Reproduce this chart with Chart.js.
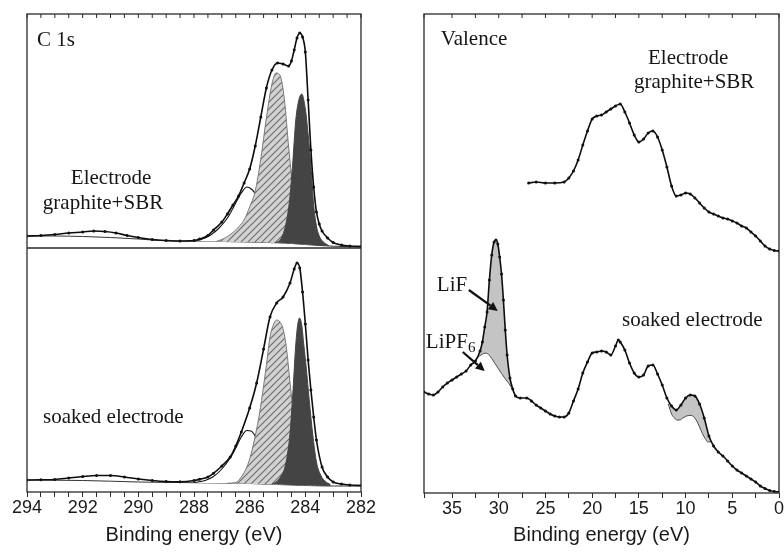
<!DOCTYPE html>
<html>
<head>
<meta charset="utf-8">
<script src="https://cdn.jsdelivr.net/npm/chart.js@4.4.1/dist/chart.umd.min.js"></script>
<style>
html, body { margin: 0; padding: 0; background: #fff; overflow: hidden; }
#left { position: absolute; left: 0; top: 0; }
#right { position: absolute; left: 392px; top: 0; }
</style>
</head>
<body>
<canvas id="left" width="392" height="553"></canvas>
<canvas id="right" width="400" height="553"></canvas>
<script>
// ---- C 1s panel, upper spectrum (electrode graphite+SBR) ----
var c1sTopE = [294, 293.5, 293, 292.5, 292, 291.6, 291.2, 290.8, 290.4, 290, 289.5, 289, 288.5, 288, 287.8, 287.5, 287.3, 287.0, 286.8, 286.6, 286.4, 286.2, 286.0, 285.8, 285.6, 285.4, 285.2, 285.0, 284.8, 284.6, 284.5, 284.4, 284.3, 284.2, 284.1, 284.0, 283.9, 283.8, 283.7, 283.6, 283.5, 283.4, 283.2, 283.0, 282.7, 282.4, 282];
var c1sTopI = [256, 256.5, 257.5, 259, 260, 261, 260.5, 259, 256.5, 254.5, 252.5, 251.5, 251, 251.5, 253, 256.5, 262, 270, 278, 287, 296, 309, 323, 346, 375, 404, 422, 429, 428, 426, 431, 442, 454, 459, 455, 440, 392, 342, 305, 280, 268, 261, 254, 249.5, 247, 246, 245.5];
var c1sTopBgE = [294, 293, 292, 291, 290, 289.5, 289, 288, 287, 286, 285, 284.5, 284, 283.5, 283, 282];
var c1sTopBgI = [256, 256, 255.5, 254.5, 253, 252, 251.2, 250.8, 250.5, 250, 249.2, 248.5, 247.5, 246.5, 245.8, 245.2];
var c1sTopHatchE = [287.2, 287.0, 286.8, 286.6, 286.4, 286.2, 286.0, 285.8, 285.6, 285.4, 285.2, 285.05, 284.9, 284.75, 284.6, 284.45, 284.3, 284.15, 284.0, 283.8, 283.6];
var c1sTopHatchI = [250.6, 252.5, 255.5, 259.5, 265, 272, 285, 301, 333, 374, 408, 419, 416, 392, 345, 305, 278, 262, 254, 249, 247.2];
var c1sTopDarkE = [285.1, 284.9, 284.75, 284.65, 284.55, 284.45, 284.35, 284.25, 284.13, 284.0, 283.9, 283.8, 283.7, 283.6, 283.5, 283.35, 283.15];
var c1sTopDarkI = [249.3, 252, 262, 275, 296, 330, 370, 390, 398, 383, 358, 326, 287, 266, 256, 250, 246.3];
var c1sTopWhiteE = [288.0, 287.7, 287.4, 287.1, 286.8, 286.5, 286.3, 286.1, 285.9, 285.7, 285.5, 285.3, 285.1, 284.9, 284.7];
var c1sTopWhiteI = [250.8, 253, 257, 264, 274, 289, 299, 305, 302, 294, 282, 270, 260, 254, 250.5];

// ---- C 1s panel, lower spectrum (soaked electrode) ----
var c1sBotE = [294, 293.5, 293, 292.5, 292, 291.5, 291, 290.5, 290, 289.5, 289, 288.5, 288, 287.8, 287.5, 287.3, 287.0, 286.7, 286.5, 286.3, 286.0, 285.75, 285.5, 285.27, 285.03, 284.8, 284.55, 284.4, 284.3, 284.2, 284.1, 284.0, 283.9, 283.8, 283.7, 283.6, 283.4, 283.2, 283.0, 282.7, 282.4, 282];
var c1sBotI = [12, 12.2, 12.5, 14, 15.5, 16.5, 16.5, 15, 13, 11.5, 10.5, 10.3, 11.5, 12.7, 15, 18.7, 26, 35, 46, 60, 84, 109, 143, 175, 189, 195, 209, 223, 229, 224, 200, 168, 132, 102, 75, 52, 25, 15, 10, 8, 7, 6.5];
var c1sBotBgE = [294, 292, 291, 290, 289, 288, 287, 286, 285, 284, 283, 282];
var c1sBotBgI = [12, 11.5, 10.8, 10, 9.6, 9.3, 9, 8.5, 7.5, 6.5, 6, 6];
var c1sBotHatchE = [286.8, 286.5, 286.3, 286.1, 285.95, 285.8, 285.65, 285.5, 285.38, 285.27, 285.15, 285.03, 284.91, 284.79, 284.67, 284.55, 284.45, 284.3, 284.15, 284.0, 283.8, 283.6];
var c1sBotHatchI = [8.8, 9.5, 15, 25, 38, 56, 78, 106, 131, 155, 167, 172, 170, 162, 142, 109, 84, 52, 29, 16, 9.5, 7];
var c1sBotDarkE = [285.2, 285.0, 284.85, 284.73, 284.63, 284.55, 284.45, 284.35, 284.28, 284.21, 284.13, 284.05, 283.97, 283.86, 283.74, 283.6, 283.45, 283.3, 283.1];
var c1sBotDarkI = [7.8, 11, 17, 25, 40, 59, 98, 145, 166, 174, 167, 146, 125, 92, 59, 30, 17, 11, 7.5];
var c1sBotWhiteE = [288.0, 287.6, 287.3, 287.0, 286.7, 286.5, 286.3, 286.1, 285.95, 285.8, 285.6, 285.4, 285.2, 285.0, 284.8];
var c1sBotWhiteI = [9.5, 11.5, 15.5, 23, 34, 44, 55, 61.5, 61, 56, 45, 33, 22, 14, 10];
var c1sDividerI = 244;

// ---- Valence panel ----
var valTopE = [26.8, 26, 25, 24, 23, 22.5, 22, 21.5, 21, 20.5, 20, 19.5, 19, 18.5, 18, 17.5, 17, 16.5, 16, 15.5, 15, 14.5, 14, 13.5, 13, 12.5, 12, 11.5, 11, 10.5, 10, 9.5, 9, 8.5, 8, 7.5, 7, 6.5, 6, 5.5, 5, 4.5, 4, 3.5, 3, 2.5, 2, 1.5, 1, 0.5, 0];
var valTopI = [310, 311, 310, 310, 311, 315, 322, 333, 348, 362, 374, 377, 378, 381, 384, 387, 389, 381, 370, 358, 351, 354, 360, 362, 356, 343, 326, 307, 297, 298, 300, 299, 295, 290, 285, 281, 279, 277, 275, 274, 272, 270, 267, 265, 261, 257, 252, 247, 244, 242.5, 242];
var valBotE = [38, 37.5, 37, 36.5, 36, 35.5, 35, 34.5, 34, 33.5, 33, 32.5, 32, 31.75, 31.5, 31.25, 31, 30.75, 30.5, 30.3, 30.1, 29.9, 29.7, 29.5, 29.3, 29.1, 28.8, 28.5, 28.2, 27.7, 27, 26.5, 26, 25.5, 25, 24.5, 24, 23.5, 23, 22.5, 22, 21.5, 21, 20.5, 20, 19.5, 19, 18.5, 18, 17.5, 17.2, 17, 16.5, 16, 15.5, 15, 14.5, 14, 13.5, 13, 12.5, 12, 11.5, 11, 10.5, 10, 9.5, 9, 8.5, 8, 7.5, 7, 6.5, 6, 5.5, 5, 4.5, 4, 3.5, 3, 2.5, 2, 1.5, 1, 0.5, 0];
var valBotI = [101, 99, 98, 101, 106, 110, 113, 116, 119, 122, 128, 132, 142, 151, 166, 181, 213, 238, 251, 253, 249, 236, 219, 193, 163, 138, 115, 104, 97, 95, 95, 92, 88, 85, 82, 79, 77, 76, 76, 80, 92, 104, 120, 131, 140, 141, 142, 141, 138, 147, 153, 151, 143, 130, 120, 116, 118, 127, 128, 119, 108, 95, 87, 83, 88, 95, 98, 97, 89, 75, 57, 47, 41, 37, 32, 27, 23, 20, 17, 14, 11, 7, 4.5, 2.5, 1.5, 1];
var lipf6E = [32.5, 32.2, 31.9, 31.6, 31.3, 31.0, 30.75, 30.4, 30.05, 29.7, 29.34, 29.0, 28.8, 28.5, 28.26];
var lipf6I = [132, 136, 138, 139.5, 139.7, 137.5, 134.5, 129.5, 124.5, 119.5, 114.7, 110.5, 108, 103, 98.5];
var lowerTenE = [11.85, 11.5, 11.2, 10.9, 10.6, 10.3, 10, 9.7, 9.4, 9.1, 8.8, 8.5, 8.2, 7.9, 7.6, 7.25];
var lowerTenI = [89, 79, 75, 73, 73, 75, 76.5, 77.5, 77.5, 76, 72, 66, 59.5, 54.5, 51, 51.5];

// axis ranges and ticks
var c1sRange = [282, 294];
var valRange = [0, 38];

// text labels, placed in data units
var c1sTexts = [
    { text: 'C 1s', x: 293.64, y: 452, align: 'left' },
    { text: 'Electrode', x: 290.98, y: 314 },
    { text: 'graphite+SBR', x: 291.27, y: 289 },
    { text: 'soaked electrode', x: 290.9, y: 75 }
];
var valTexts = [
    { text: 'Valence', x: 36.2, y: 454, align: 'left' },
    { text: 'Electrode', x: 9.72, y: 435 },
    { text: 'graphite+SBR', x: 9.08, y: 411 },
    { text: 'soaked electrode', x: 9.29, y: 173 },
    { text: 'LiF', x: 35.0, y: 208 },
    { text: 'LiPF', sub: '6', x: 37.8, y: 151, align: 'left' }
];
var valArrows = [
    { from: [33.2, 203], to: [30.1, 182] },
    { from: [33.85, 141], to: [31.5, 122] }
];

function pts(xs, ys) {
    return xs.map(function (x, i) { return { x: x, y: ys[i] }; });
}

function hatch(canvasId) {
    var c = document.createElement('canvas');
    c.width = 7; c.height = 7;
    var g = c.getContext('2d');
    g.fillStyle = '#d2d2d2';
    g.fillRect(0, 0, 7, 7);
    g.strokeStyle = '#6a6a6a';
    g.lineWidth = 1.1;
    g.beginPath(); g.moveTo(-1, 8); g.lineTo(8, -1); g.stroke();
    g.beginPath(); g.moveTo(-1, 1); g.lineTo(1, -1); g.stroke();
    g.beginPath(); g.moveTo(6, 8); g.lineTo(8, 6); g.stroke();
    return document.getElementById(canvasId).getContext('2d').createPattern(c, 'repeat');
}

function curve(xs, ys, extra) {
    var d = {
        data: pts(xs, ys),
        borderColor: '#111',
        borderWidth: 1.2,
        pointRadius: 0,
        fill: false,
        cubicInterpolationMode: 'monotone'
    };
    for (var k in extra) d[k] = extra[k];
    return d;
}

// measured spectra: thicker line with dots
var spectrum = { order: 0, borderWidth: 1.6, borderColor: '#0d0d0d', pointRadius: 1.5, pointBackgroundColor: '#111', pointBorderWidth: 0 };

var marks = {
    id: 'marks',
    afterDatasetsDraw: function (chart, args, opts) {
        var ctx = chart.ctx, a = chart.chartArea;
        var x = chart.scales.x, y = chart.scales.y;
        ctx.save();
        ctx.strokeStyle = '#2a2a2a';
        ctx.lineWidth = 1.3;
        ctx.strokeRect(a.left, a.top, a.right - a.left, a.bottom - a.top);
        ctx.lineWidth = 1;
        x.ticks.forEach(function (t) {
            var px = x.getPixelForValue(t.value);
            ctx.beginPath(); ctx.moveTo(px, a.top); ctx.lineTo(px, a.top + 4); ctx.stroke();
        });
        ctx.fillStyle = '#161616';
        ctx.textBaseline = 'middle';
        (opts.texts || []).forEach(function (t) {
            var px = x.getPixelForValue(t.x), py = y.getPixelForValue(t.y);
            ctx.font = '21px "Liberation Serif"';
            ctx.textAlign = t.align || 'center';
            ctx.fillText(t.text, px, py);
            if (t.sub) {
                var w = ctx.measureText(t.text).width;
                ctx.font = '15px "Liberation Serif"';
                ctx.textAlign = 'left';
                ctx.fillText(t.sub, px + w, py + 6);
            }
        });
        ctx.strokeStyle = '#111';
        ctx.lineWidth = 2.2;
        (opts.arrows || []).forEach(function (r) {
            var x1 = x.getPixelForValue(r.from[0]), y1 = y.getPixelForValue(r.from[1]);
            var x2 = x.getPixelForValue(r.to[0]), y2 = y.getPixelForValue(r.to[1]);
            var ang = Math.atan2(y2 - y1, x2 - x1);
            var bx = x2 - 9 * Math.cos(ang), by = y2 - 9 * Math.sin(ang);
            ctx.beginPath(); ctx.moveTo(x1, y1); ctx.lineTo(bx, by); ctx.stroke();
            ctx.beginPath();
            ctx.moveTo(x2, y2);
            ctx.lineTo(bx + 4.5 * Math.sin(ang), by - 4.5 * Math.cos(ang));
            ctx.lineTo(bx - 4.5 * Math.sin(ang), by + 4.5 * Math.cos(ang));
            ctx.closePath();
            ctx.fillStyle = '#111';
            ctx.fill();
        });
        ctx.restore();
    }
};

function xAxis(range, step, every, height) {
    return {
        type: 'linear',
        reverse: true,
        min: range[0],
        max: range[1],
        ticks: {
            stepSize: step,
            autoSkip: false,
            maxRotation: 0,
            padding: 0,
            color: '#1a1a1a',
            font: { family: 'Liberation Sans', size: 18 },
            callback: function (v) { return Math.abs(v % every) < 1e-6 ? String(v) : ''; }
        },
        grid: { drawOnChartArea: false, drawTicks: true, tickLength: 5, color: '#2a2a2a' },
        border: { display: false },
        title: {
            display: true,
            text: 'Binding energy (eV)',
            color: '#1a1a1a',
            font: { family: 'Liberation Sans', size: 20 },
            padding: { top: 0, bottom: 6 }
        },
        afterFit: function (s) { s.height = height; }
    };
}

var pattern = hatch('left');
var darkGrey = '#444444';

new Chart(document.getElementById('left'), {
    type: 'line',
    data: {
        datasets: [
            curve(c1sTopE, c1sTopI, spectrum),
            curve(c1sTopDarkE, c1sTopDarkI, { order: 1, borderColor: darkGrey, borderWidth: 1, fill: { target: 4, above: darkGrey, below: darkGrey } }),
            curve(c1sTopHatchE, c1sTopHatchI, { order: 2, borderColor: '#7a7a7a', borderWidth: 1, fill: { target: 4, above: pattern, below: pattern } }),
            curve(c1sTopWhiteE, c1sTopWhiteI, { order: 3, borderWidth: 1.1, fill: { target: 4, above: '#fff', below: '#fff' } }),
            curve(c1sTopBgE, c1sTopBgI, { order: 4, borderWidth: 1, borderColor: '#333' }),
            curve(c1sBotE, c1sBotI, spectrum),
            curve(c1sBotDarkE, c1sBotDarkI, { order: 1, borderColor: darkGrey, borderWidth: 1, fill: { target: 9, above: darkGrey, below: darkGrey } }),
            curve(c1sBotHatchE, c1sBotHatchI, { order: 2, borderColor: '#7a7a7a', borderWidth: 1, fill: { target: 9, above: pattern, below: pattern } }),
            curve(c1sBotWhiteE, c1sBotWhiteI, { order: 3, borderWidth: 1.1, fill: { target: 9, above: '#fff', below: '#fff' } }),
            curve(c1sBotBgE, c1sBotBgI, { order: 4, borderWidth: 1, borderColor: '#333' }),
            curve(c1sRange, [c1sDividerI, c1sDividerI], { order: 5, borderWidth: 1.3, borderColor: '#2a2a2a' })
        ]
    },
    options: {
        responsive: false,
        animation: false,
        layout: { padding: { left: 27, right: 31, top: 14, bottom: 0 } },
        plugins: {
            legend: { display: false },
            tooltip: { enabled: false },
            marks: { texts: c1sTexts, arrows: [] }
        },
        scales: {
            x: xAxis(c1sRange, 0.5, 2, 61),
            y: { display: false, min: 0, max: 478 }
        }
    },
    plugins: [marks]
});

var lightGrey = '#c4c4c4';

new Chart(document.getElementById('right'), {
    type: 'line',
    data: {
        datasets: [
            curve(valBotE, valBotI, spectrum),
            curve(valTopE, valTopI, spectrum),
            curve(lipf6E, lipf6I, { order: 1, borderColor: '#4a4a4a', borderWidth: 1, fill: { target: 0, above: lightGrey, below: lightGrey } }),
            curve(lowerTenE, lowerTenI, { order: 1, borderColor: '#4a4a4a', borderWidth: 1, fill: { target: 0, above: lightGrey, below: lightGrey } })
        ]
    },
    options: {
        responsive: false,
        animation: false,
        layout: { padding: { left: 32, right: 13, top: 14, bottom: 0 } },
        plugins: {
            legend: { display: false },
            tooltip: { enabled: false },
            marks: { texts: valTexts, arrows: valArrows }
        },
        scales: {
            x: xAxis(valRange, 2.5, 5, 60),
            y: { display: false, min: 0, max: 479 }
        }
    },
    plugins: [marks]
});
</script>
</body>
</html>
